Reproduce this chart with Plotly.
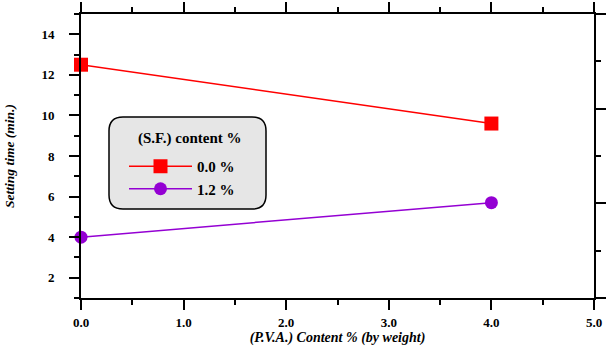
import plotly.graph_objects as go

pva_content = [0.0, 4.0]
sf0_setting = [12.5, 9.6]
sf12_setting = [4.0, 5.7]
series_names = ["0.0 %", "1.2 %"]
legend_title = "(S.F.) content %"
x_title = "(P.V.A.) Content % (by weight)"
y_title = "Setting time (min.)"

FONT = "Liberation Serif"
W, H = 611, 346
ml, mr, mt, mb = 81, 17, 14, 48
pw, ph = W - ml - mr, H - mt - mb

fig = go.Figure()
fig.add_trace(go.Scatter(x=pva_content, y=sf0_setting, name=series_names[0],
                         mode="lines+markers", cliponaxis=False,
                         line=dict(color="#ff0000", width=1.5),
                         marker=dict(symbol="square", size=14, color="#ff0000")))
fig.add_trace(go.Scatter(x=pva_content, y=sf12_setting, name=series_names[1],
                         mode="lines+markers", cliponaxis=False,
                         line=dict(color="#9400d3", width=1.5),
                         marker=dict(symbol="circle", size=13, color="#9400d3")))
fig.add_trace(go.Scatter(x=[], y=[], yaxis="y2", showlegend=False, hoverinfo="skip"))

# rounded legend box (paper coords)
def px2x(p):
    return (p - ml) / pw

def px2y(p):
    return (H - mb - p) / ph

bx0, bx1, by0, by1 = px2x(109), px2x(266), px2y(209), px2y(117)
rx, ry = 14 / pw, 14 / ph
path = (f"M {bx0+rx},{by0} L {bx1-rx},{by0} Q {bx1},{by0} {bx1},{by0+ry} "
        f"L {bx1},{by1-ry} Q {bx1},{by1} {bx1-rx},{by1} "
        f"L {bx0+rx},{by1} Q {bx0},{by1} {bx0},{by1-ry} "
        f"L {bx0},{by0+ry} Q {bx0},{by0} {bx0+rx},{by0} Z")
fig.add_shape(type="path", path=path, xref="paper", yref="paper",
              fillcolor="#e6e6e6", line=dict(color="black", width=1.5), layer="below")
fig.add_annotation(text=legend_title, xref="paper", yref="paper",
                   x=px2x(190), y=px2y(138), xanchor="center", yanchor="middle",
                   showarrow=False, font=dict(family=FONT, size=15, color="black", weight="bold"))

tickfont = dict(family=FONT, size=13, color="black", weight="bold")

fig.update_layout(
    width=W, height=H,
    margin=dict(l=ml, r=mr, t=mt, b=mb, autoexpand=False),
    paper_bgcolor="white", plot_bgcolor="white",
    font=dict(family=FONT, size=12, color="black"),
    legend=dict(
        x=px2x(124), y=px2y(150), xanchor="left", yanchor="top",
        bgcolor="rgba(0,0,0,0)", borderwidth=0, itemwidth=63,
        font=dict(family=FONT, size=15, weight="bold"),
    ),
    xaxis=dict(
        range=[0, 5], dtick=1, tick0=0, tickformat=".1f", automargin=False,
        showgrid=False, zeroline=False,
        showline=True, linecolor="black", linewidth=2,
        ticks="outside", ticklen=10, tickwidth=2, tickcolor="black",
        mirror="ticks",
        minor=dict(dtick=0.5, ticklen=5, tickwidth=2, tickcolor="black", ticks="outside"),
        tickfont=tickfont, ticklabelstandoff=1,
        title=dict(text=x_title, font=dict(family=FONT, size=14, color="black",
                                           weight="bold", style="italic"), standoff=4),
    ),
    yaxis=dict(
        range=[1, 15], dtick=2, tick0=0, automargin=False,
        showgrid=False, zeroline=False,
        showline=True, linecolor="black", linewidth=2,
        ticks="outside", ticklen=10, tickwidth=2, tickcolor="black",
        minor=dict(dtick=1, tick0=0, ticklen=5, tickwidth=2, tickcolor="black", ticks="outside"),
        tickfont=tickfont, ticklabelstandoff=12,
        title=dict(text=y_title, font=dict(family=FONT, size=13.5, color="black",
                                           weight="bold", style="italic"), standoff=24),
    ),
    yaxis2=dict(
        overlaying="y", side="right", range=[0, 6], dtick=2, tick0=0, automargin=False,
        showgrid=False, zeroline=False, showticklabels=False,
        showline=True, linecolor="black", linewidth=2,
        ticks="outside", ticklen=10, tickwidth=2, tickcolor="black",
        minor=dict(dtick=1, tick0=0, ticklen=5, tickwidth=2, tickcolor="black", ticks="outside"),
    ),
)

fig.write_html("out.html")
